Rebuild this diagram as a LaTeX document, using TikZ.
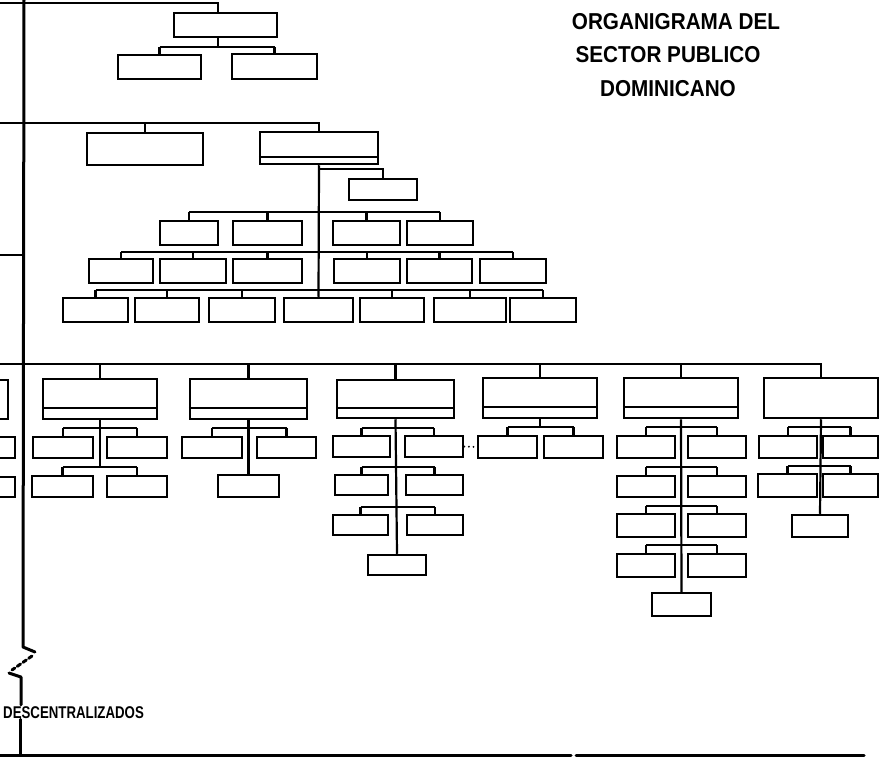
\documentclass[tikz,border=0pt]{standalone}
\usepackage{fontspec}
\setmainfont{Liberation Sans}
\usepackage{graphicx}
\usetikzlibrary{fit}

% box given by its two corners (x1,y1) (x2,y2)
\newcommand\orgbox[5]{\node[box, fit={(#2,#3) (#4,#5)}] (#1) {};}
% lower label strip inside a box, #2 = height of the strip
\newcommand\orgstrip[2]{\draw[wire] ([yshift=#2pt]#1.south west) -- ([yshift=#2pt]#1.south east);}
% drop from a bus line down to a box
\newcommand\drop[2]{\draw[wire] (#1.north) -- (#1.north |- #2);}
% bus line joining two boxes
\newcommand\bus[3]{\draw[wire] (#1.north |- #3) -- (#2.north |- #3);}

\begin{document}
\begin{tikzpicture}[x=1pt,y=-1pt,
  box/.style={draw, line width=2.5pt, inner sep=0pt, fill=white},
  wire/.style={line width=2.2pt},
  spine/.style={line width=3pt, line cap=round, line join=round},
  heading/.style={font=\fontsize{23}{23}\selectfont\bfseries, inner sep=0pt, anchor=base},
]
\useasboundingbox (0,0) rectangle (880,757);

% ---------- title ----------
\node[heading] (t1) at (676,30) {\scalebox{0.9}[1]{ORGANIGRAMA DEL}};
\node[heading] (t2) at (668,63) {\scalebox{0.9}[1]{SECTOR PUBLICO}};
\node[heading] (t3) at (668,97) {\scalebox{0.9}[1]{DOMINICANO}};

% ---------- main spine ----------
\draw[spine] (24,0) -- (23,647) -- (35,652);
\draw[spine, dash pattern=on 4pt off 3pt] (32,656) -- (12,670);
\coordinate (brk) at (21,677);
\node[anchor=base west, inner sep=1pt, font=\fontsize{17}{17}\selectfont\bfseries] (descent) at (2,718)
  {\scalebox{0.78}[1]{DESCENTRALIZADOS}};
\draw[spine] (9,673) -- (brk) -- (brk |- descent.north);
\coordinate (foot) at (20,755);
\draw[spine] (foot |- descent.south) -- (foot);
\draw[spine] (0,755) -- (571,755);
\draw[spine] (576,755) -- (864,755);

% ---------- first group ----------
\orgbox{presid}{174}{13}{277}{37}
\orgbox{presA}{118}{55}{201}{79}
\orgbox{presB}{232}{54}{317}{79}
\coordinate (topline) at (0,3);
\coordinate (presbus) at (218,47);
\draw[wire] (topline) -| (presid.north -| presbus);
\draw[wire] (presid.south -| presbus) -- (presbus);
\bus{presA}{presB}{presbus}
\drop{presA}{presbus} \drop{presB}{presbus}

% ---------- second group ----------
\orgbox{liga}{87}{133}{203}{165}
\orgbox{tecnico}{260}{132}{378}{164} \orgstrip{tecnico}{8}
\orgbox{consejo}{349}{179}{417}{200}
\coordinate (secB) at (0,123);
\draw[wire] (secB) -| (tecnico.north);
\drop{liga}{secB}
\coordinate (consbus) at (0,169);
\draw[wire] (tecnico.south |- consbus) -| (consejo.north);

% row 1
\orgbox{ra1}{160}{221}{218}{245}
\orgbox{ra2}{233}{221}{302}{245}
\orgbox{ra3}{333}{221}{400}{245}
\orgbox{ra4}{407}{221}{473}{245}
\coordinate (rabus) at (0,212);
\bus{ra1}{ra4}{rabus}
\foreach \n in {ra1,ra2,ra3,ra4} {\drop{\n}{rabus}}

% row 2
\orgbox{rb1}{89}{259}{153}{283}
\orgbox{rb2}{160}{259}{226}{283}
\orgbox{rb3}{233}{259}{302}{283}
\orgbox{rb4}{334}{259}{400}{283}
\orgbox{rb5}{407}{259}{472}{283}
\orgbox{rb6}{480}{259}{546}{283}
\coordinate (rbbus) at (0,252);
\bus{rb1}{rb6}{rbbus}
\foreach \n in {rb1,rb2,rb3,rb4,rb5,rb6} {\drop{\n}{rbbus}}

% row 3
\orgbox{rc1}{63}{298}{128}{322}
\orgbox{rc2}{135}{298}{199}{322}
\orgbox{rc3}{209}{298}{275}{322}
\orgbox{rc4}{284}{298}{353}{322}
\orgbox{rc5}{360}{298}{424}{322}
\orgbox{rc6}{434}{298}{506}{322}
\orgbox{rc7}{510}{298}{576}{322}
\coordinate (rcbus) at (0,290);
\bus{rc1}{rc7}{rcbus}
\foreach \n in {rc1,rc2,rc3,rc5,rc6,rc7} {\drop{\n}{rcbus}}
\draw[wire] (tecnico.south) -- (rc4.north);

% ---------- third group ----------
\coordinate (secC) at (0,255);
\coordinate (secCend) at (23.5,255);
\draw[wire] (secC) -- (secCend);

% ---------- secretariats ----------
\coordinate (secD) at (0,364);

% partly visible boxes at the left edge
\orgbox{edgeA}{-20}{380}{8}{419}
\orgbox{edgeB}{-20}{437}{15}{458}
\orgbox{edgeC}{-20}{477}{15}{497}

% secretariat 1
\orgbox{mA}{43}{379}{157}{419} \orgstrip{mA}{12}
\orgbox{mA1}{33}{437}{93}{458}
\orgbox{mA2}{107}{437}{167}{458}
\orgbox{mA3}{32}{476}{93}{497}
\orgbox{mA4}{107}{476}{167}{497}
\coordinate (mAb1) at (0,428);
\coordinate (mAb2) at (0,467);
\draw[wire] (mA.south) -- (mA.south |- mAb2);
\bus{mA1}{mA2}{mAb1} \bus{mA3}{mA4}{mAb2}
\foreach \n in {mA1,mA2} {\drop{\n}{mAb1}}
\foreach \n in {mA3,mA4} {\drop{\n}{mAb2}}

% secretariat 2
\orgbox{mB}{190}{379}{307}{419} \orgstrip{mB}{12}
\orgbox{mB1}{182}{437}{242}{458}
\orgbox{mB2}{257}{437}{316}{458}
\orgbox{mB3}{218}{475}{279}{497}
\coordinate (mBb1) at (0,428);
\draw[wire] (mB.south) -- (mB3.north);
\bus{mB1}{mB2}{mBb1}
\foreach \n in {mB1,mB2} {\drop{\n}{mBb1}}

% secretariat 3
\orgbox{mC}{337}{380}{454}{418} \orgstrip{mC}{11}
\orgbox{mC1}{333}{436}{390}{457}
\orgbox{mC2}{405}{436}{463}{457}
\orgbox{mC3}{335}{475}{388}{495}
\orgbox{mC4}{406}{475}{463}{495}
\orgbox{mC5}{333}{515}{388}{535}
\orgbox{mC6}{407}{515}{463}{535}
\orgbox{mC7}{368}{555}{426}{575}
\coordinate (mCb1) at (0,428);
\coordinate (mCb2) at (0,467);
\coordinate (mCb3) at (0,507);
\draw[wire] (mC.south) -- (mC7.north);
\bus{mC1}{mC2}{mCb1} \bus{mC3}{mC4}{mCb2} \bus{mC5}{mC6}{mCb3}
\foreach \n in {mC1,mC2} {\drop{\n}{mCb1}}
\foreach \n in {mC3,mC4} {\drop{\n}{mCb2}}
\foreach \n in {mC5,mC6} {\drop{\n}{mCb3}}

% secretariat 4
\orgbox{mD}{483}{378}{597}{418} \orgstrip{mD}{12}
\orgbox{mD1}{478}{436}{537}{458}
\orgbox{mD2}{544}{436}{603}{458}
\coordinate (mDb1) at (0,427);
\draw[wire] (mD.south) -- (mD.south |- mDb1);
\bus{mD1}{mD2}{mDb1}
\foreach \n in {mD1,mD2} {\drop{\n}{mDb1}}
\draw[line width=2pt, line cap=round, dash pattern=on 0.1pt off 4.5pt] (mC2.east) -- (mD1.west);

% secretariat 5
\orgbox{mE}{624}{378}{738}{418} \orgstrip{mE}{12}
\orgbox{mE1}{617}{436}{675}{458}
\orgbox{mE2}{688}{436}{746}{458}
\orgbox{mE3}{617}{476}{675}{497}
\orgbox{mE4}{688}{476}{746}{497}
\orgbox{mE5}{617}{514}{675}{537}
\orgbox{mE6}{688}{514}{746}{537}
\orgbox{mE7}{617}{554}{675}{577}
\orgbox{mE8}{688}{554}{746}{577}
\orgbox{mE9}{652}{593}{711}{616}
\coordinate (mEb1) at (0,427);
\coordinate (mEb2) at (0,467);
\coordinate (mEb3) at (0,506);
\coordinate (mEb4) at (0,545);
\draw[wire] (mE.south) -- (mE9.north);
\bus{mE1}{mE2}{mEb1} \bus{mE3}{mE4}{mEb2} \bus{mE5}{mE6}{mEb3} \bus{mE7}{mE8}{mEb4}
\foreach \n in {mE1,mE2} {\drop{\n}{mEb1}}
\foreach \n in {mE3,mE4} {\drop{\n}{mEb2}}
\foreach \n in {mE5,mE6} {\drop{\n}{mEb3}}
\foreach \n in {mE7,mE8} {\drop{\n}{mEb4}}

% secretariat 6
\orgbox{mF}{764}{378}{878}{418}
\orgbox{mF1}{759}{436}{817}{458}
\orgbox{mF2}{823}{436}{878}{458}
\orgbox{mF3}{758}{474}{817}{497}
\orgbox{mF4}{823}{474}{878}{497}
\orgbox{mF5}{792}{515}{848}{537}
\coordinate (mFb1) at (0,427);
\coordinate (mFb2) at (0,466);
\draw[wire] (mF.south) -- (mF5.north);
\bus{mF1}{mF2}{mFb1} \bus{mF3}{mF4}{mFb2}
\foreach \n in {mF1,mF2} {\drop{\n}{mFb1}}
\foreach \n in {mF3,mF4} {\drop{\n}{mFb2}}

% common line feeding the secretariats
\draw[wire] (secD) -| (mF.north);
\foreach \n in {mA,mB,mC,mD,mE} {\draw[wire] (\n.north) -- (\n.north |- secD);}
\end{tikzpicture}
\end{document}
